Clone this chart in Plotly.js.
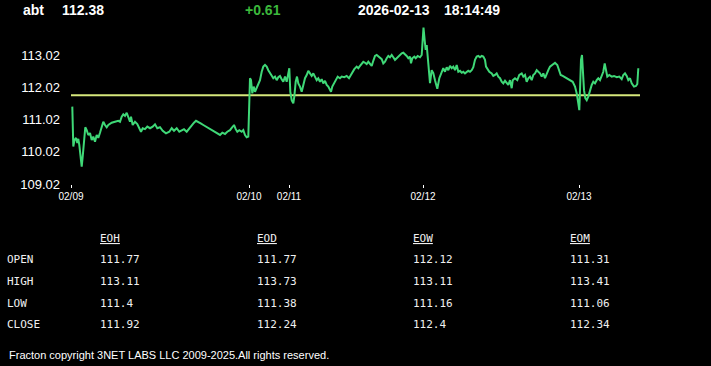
<!DOCTYPE html>
<html><head><meta charset="utf-8">
<script src="https://cdn.plot.ly/plotly-3.0.1.min.js"></script>
<style>html,body{margin:0;padding:0;background:#000;overflow:hidden}#chart{width:711px;height:366px;}</style>
</head><body><div id="chart"></div>
<script>
// ---- header quote ----
const symbol = 'abt';
const lastPrice = '112.38';
const change = '+0.61';
const quoteDate = '2026-02-13';
const quoteTime = '18:14:49';

// ---- intraday series (bar index, price) ----
const idx = [1.3,2.3,3.5,5,6.3,7.3,8.3,9.7,10.7,11.7,13,14.3,15.7,17.3,19,20.7,22.3,24,25.7,27.3,29,30.7,32.3,34,35.7,37.3,40.7,44,47.3,49,50.7,52.3,54,55.7,57.3,59,60,61.7,64,66.3,68.3,70,71.7,74,76.3,79,81.7,84,86.3,89,91.7,95,98.3,100.7,103,105.7,108.3,110.7,113,115.7,118.3,120.7,123,125,127.3,129.7,132.3,135,137.3,139.7,142.3,145,147.3,149,151.3,154,156.3,159,161.3,163,164.7,166.3,168.3,170.7,172.3,174,175.7,177.3,
179,180,181.3,182.7,184,185.7,187.3,189,190.7,192.3,194,195.7,197.3,199,200.7,202.3,204,205.7,207.3,209,210.7,212.3,214,215.7,217.3,
218.3,219.3,220.7,222.3,223.3,224.7,226,227.3,229,230.7,232.3,234,235.7,237.3,239,240.7,242.3,244,245.7,247.3,249,250.7,252.3,254,255.7,257.3,259,260,261.3,263.3,264.7,266.7,269,270.7,273.3,275.7,278,280,281.3,283.3,285.7,287.3,289,290.7,292.3,294,295.7,297.3,299,300.7,302.3,304,305.7,307.3,309,310.7,312.3,314,315.7,317.3,319,320.7,322.3,324,325.7,327.3,329,330.7,332.3,334,335.7,337.3,339,340,341.3,343.3,344.7,346.7,349,350.7,
351.7,352.5,353.7,354.7,355.7,356.7,358,359,360.7,362.3,364,366.3,368.3,370.7,372.3,374,375.7,377.3,379,380.7,382.3,384,385.7,387.3,389,390.7,392.3,394,395.7,397.3,399,400.7,402.3,404,405.7,407.3,409,410.7,412.3,414,415,416.3,418.3,420.7,422.3,424,425.7,427.3,429,430.7,432.3,434,435.7,437.3,439,440.7,441.7,444,446.3,448.3,450.7,452.3,454,455.7,457.3,459,460.7,462.3,464,465.7,467.3,469,470.7,472.3,474,475.7,477.3,479,481.7,484,486.3,488.3,489.7,491.7,494,496.3,499,501.7,504,505.7,507.3,
508.3,509,510,511,512,513,514.3,515.7,517.3,519,520.7,522.3,524,525.7,527.3,529,530.7,532.3,533.7,535,536.3,538.3,540.7,543,545.7,548.3,550.7,552.3,554,555.7,557.3,559,560.7,563,565,566.3,567.3];
const price = [111.42,110.18,110.38,110.45,110.29,110.42,110.23,109.92,109.56,109.87,110.49,110.78,110.69,110.54,110.60,110.38,110.49,110.33,110.54,110.45,110.61,110.80,110.95,110.85,110.78,110.85,110.92,110.95,110.98,110.95,111.11,111.18,111.13,111.23,111.11,110.95,111.11,110.85,110.95,110.88,110.75,110.64,110.75,110.72,110.80,110.75,110.80,110.87,110.75,110.78,110.67,110.59,110.64,110.75,110.67,110.75,110.64,110.67,110.72,110.64,110.75,110.85,110.92,110.98,110.95,110.90,110.85,110.80,110.78,110.72,110.67,110.62,110.59,110.54,110.61,110.57,110.64,110.69,110.78,110.85,110.72,110.64,110.69,110.64,110.69,110.54,110.47,110.49,
112.30,112.24,111.83,112.04,111.88,111.99,112.09,112.24,112.50,112.66,112.71,112.66,112.55,112.47,112.40,112.30,112.35,112.24,112.33,112.37,112.27,112.19,112.35,112.19,112.45,
112.61,111.88,111.62,111.52,111.73,112.19,112.35,112.14,112.04,111.88,112.14,112.30,112.40,112.53,112.45,112.37,112.45,112.33,112.24,112.30,112.19,112.27,112.14,112.22,112.09,112.04,111.93,111.88,112.04,112.16,112.24,112.35,112.30,112.35,112.33,112.37,112.30,112.40,112.50,112.58,112.66,112.61,112.68,112.76,112.81,112.78,112.74,112.81,112.76,112.68,112.84,112.99,113.02,112.97,112.95,112.89,112.76,112.81,112.92,112.99,112.95,113.02,112.95,112.87,112.92,112.97,113.02,113.07,113.09,113.05,112.99,112.92,112.97,112.76,112.92,112.97,112.92,112.99,112.95,113.02,
113.69,113.87,113.47,113.18,113.33,112.97,112.62,112.15,112.55,112.46,112.24,111.97,112.30,112.50,112.61,112.50,112.64,112.55,112.68,112.61,112.66,112.55,112.71,112.50,112.53,112.47,112.50,112.45,112.50,112.53,112.50,112.55,112.64,112.87,112.97,112.99,112.95,112.99,112.97,112.87,112.66,112.61,112.50,112.45,112.37,112.40,112.45,112.35,112.30,112.19,112.14,112.22,112.16,112.09,112.24,111.99,112.24,112.30,112.24,112.40,112.45,112.35,112.40,112.19,112.30,112.35,112.24,112.40,112.45,112.55,112.50,112.45,112.35,112.45,112.30,112.45,112.55,112.66,112.74,112.78,112.71,112.55,112.40,112.37,112.33,112.30,112.24,112.19,112.04,111.83,111.52,
111.31,111.93,112.87,113.02,112.55,111.93,111.68,111.62,111.73,111.93,112.09,112.19,112.14,112.24,112.30,112.24,112.35,112.50,112.76,112.55,112.35,112.40,112.35,112.37,112.33,112.35,112.27,112.40,112.45,112.37,112.24,112.30,112.14,112.04,112.06,112.12,112.61];

const openRef = 111.77;   // reference (open) level

// ---- axes ----
const tickIdx = [0, 178, 218, 352, 508];
const tickDates = ['02/09', '02/10', '02/11', '02/12', '02/13'];
const yTicks = [109.02, 110.02, 111.02, 112.02, 113.02];

// ---- summary table ----
const tableCols = ['EOH', 'EOD', 'EOW', 'EOM'];
const tableRows = ['OPEN', 'HIGH', 'LOW', 'CLOSE'];
const eoh = [111.77, 113.11, 111.4, 111.92];
const eod = [111.77, 113.73, 111.38, 112.24];
const eow = [112.12, 113.11, 111.16, 112.4];
const eom = [111.31, 113.41, 111.06, 112.34];
const footer = 'Fracton copyright 3NET LABS LLC 2009-2025.All rights reserved.';

// ---- layout helpers ----
const W = 711, H = 366, L = 71, R = 71, T = 27, B = 182;
const pw = W - L - R, ph = H - T - B;
const fx = x => (x - L) / pw;
const fy = y => (H - B - y) / ph;
const SANS = 'Liberation Sans, Arial, sans-serif';
const MONO = 'DejaVu Sans Mono, monospace';

function ann(text, x, y, font) {
  return {text: text, xref: 'paper', yref: 'paper', x: fx(x), y: fy(y),
          xanchor: 'left', yanchor: 'middle', showarrow: false, font: font};
}

const annotations = [];
const hdrFont = {family: SANS, size: 14, color: '#ffffff', weight: 'bold'};
annotations.push(ann('<b>' + symbol + '</b>', 21, 10, hdrFont));
annotations.push(ann('<b>' + lastPrice + '</b>', 60, 10, hdrFont));
annotations.push(ann('<b>' + change + '</b>', 243, 10, {family: SANS, size: 14, color: '#3cb83c'}));
annotations.push(ann('<b>' + quoteDate + '</b>', 356, 10, hdrFont));
annotations.push(ann('<b>' + quoteTime + '</b>', 442, 10, hdrFont));

const colX = [98, 255, 411, 568];
const rowY = [259, 281, 303, 324];
const tFont = {family: MONO, size: 11, color: '#f0f0f0'};
const colVals = [eoh, eod, eow, eom];
tableCols.forEach((c, i) => annotations.push(ann('<u>' + c + '</u>', colX[i], 238, tFont)));
tableRows.forEach((r, j) => {
  annotations.push(ann(r, 5, rowY[j], tFont));
  colVals.forEach((vals, i) => annotations.push(ann(String(vals[j]), colX[i], rowY[j], tFont)));
});
annotations.push(ann(footer, 7, 355, {family: SANS, size: 11, color: '#ffffff'}));

const data = [{
  type: 'scatter', mode: 'lines', x: idx, y: price,
  line: {color: '#3fd877', width: 2}, hoverinfo: 'skip'
}];

const layout = {
  width: W, height: H,
  margin: {l: L, r: R, t: T, b: B, pad: 0},
  paper_bgcolor: '#000000', plot_bgcolor: '#000000',
  showlegend: false,
  xaxis: {range: [0, pw], tickvals: tickIdx, ticktext: tickDates,
          showgrid: false, zeroline: false, showline: false,
          ticks: 'outside', ticklen: 3, tickwidth: 1, tickcolor: '#ffffff',
          tickfont: {family: SANS, size: 10, color: '#ffffff'}, fixedrange: true},
  yaxis: {range: [109.02, 109.02 + ph / 32.25], tickvals: yTicks,
          ticktext: yTicks.map(v => v.toFixed(2)),
          showgrid: false, zeroline: false, showline: false, ticks: '',
          ticklabelstandoff: 10,
          tickfont: {family: SANS, size: 13, color: '#ffffff'}, fixedrange: true},
  shapes: [{type: 'line', xref: 'paper', x0: 0, x1: 1, yref: 'y', y0: openRef, y1: openRef,
            line: {color: '#d6e77c', width: 2}, layer: 'below'}],
  annotations: annotations
};

Plotly.newPlot('chart', data, layout, {staticPlot: true, displayModeBar: false});
</script>
</body></html>
